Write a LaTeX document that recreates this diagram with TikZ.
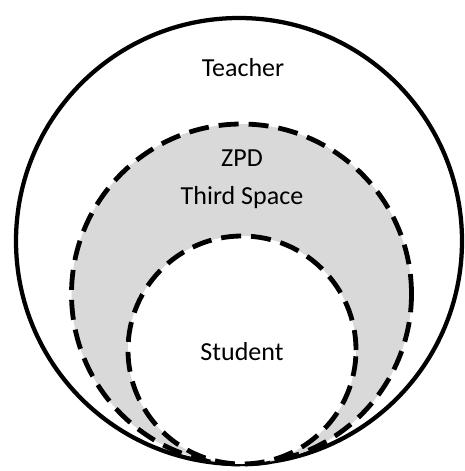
\documentclass[tikz,border=0pt]{standalone}
\usepackage{fontspec}
\setmainfont{Carlito}
\begin{document}
\begin{tikzpicture}[
        x=0.75pt, y=-0.75pt,
        font=\fontsize{19.5}{23}\selectfont,
        ring/.style={circle, draw, line width=3.2pt, inner sep=0pt, fill=white},
        dashring/.style={ring, line width=3.6pt, dash pattern=on 15pt off 7.5pt},
        lbl/.style={inner sep=0pt}]

    \useasboundingbox (0,0) rectangle (464,471);

    % ---------- nested circles ----------
    \node[ring, minimum size=334.5pt] (teacher) at (239,241) {};
    \node[dashring, fill=black!15, minimum size=255pt] (zpd) at (241.5,294) {};
    \node[dashring, minimum size=171pt] (student) at (242,350) {};

    % ---------- labels ----------
    \node[lbl] (tlbl) at (243,68) {Teacher};
    \node[lbl] (zlbl) at (242,158) {ZPD};
    \node[lbl] (slbl) at (242,198) {Third Space};
    \node[lbl] (stlbl) at (242,352) {Student};
\end{tikzpicture}
\end{document}
